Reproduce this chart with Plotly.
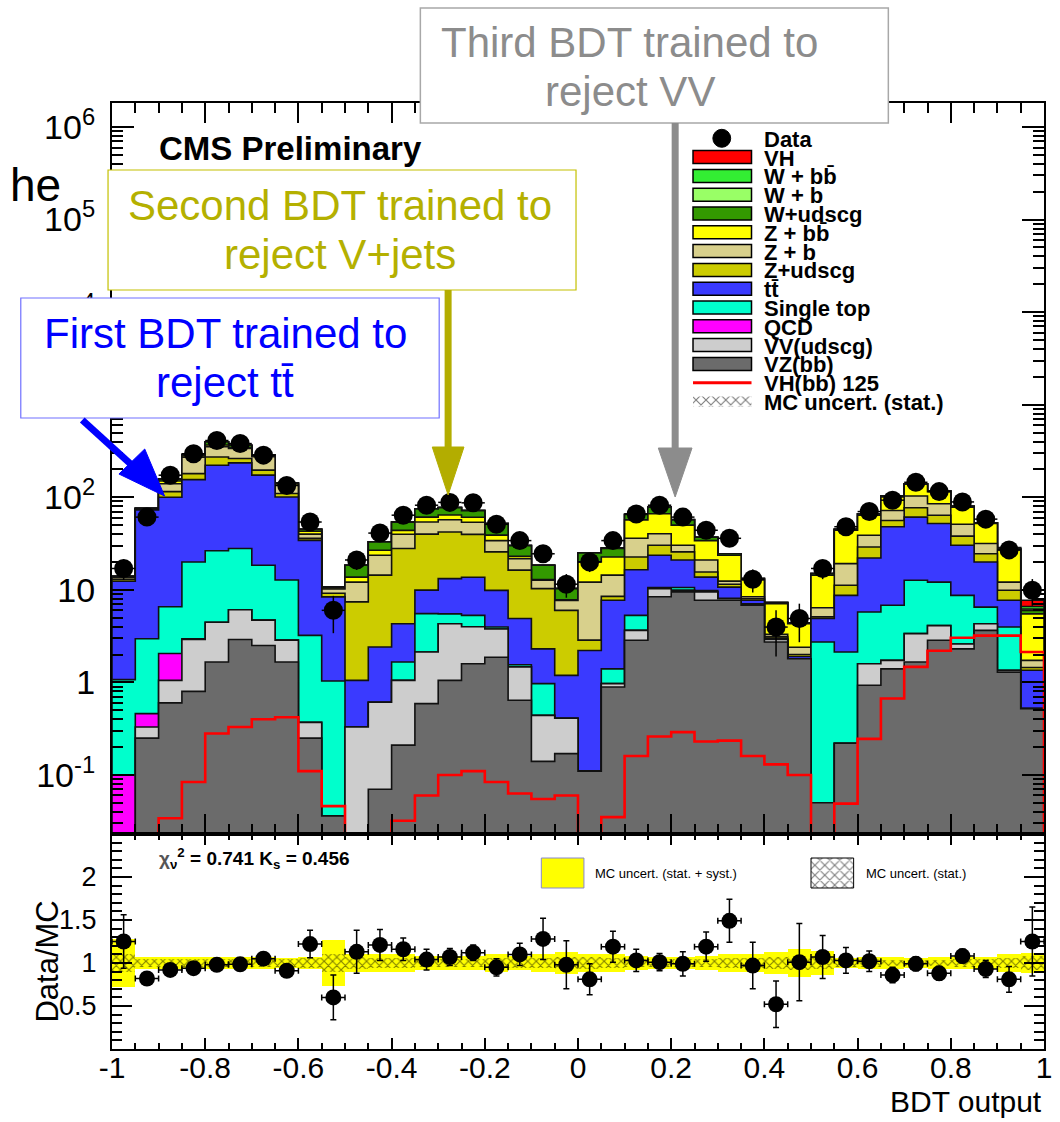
import numpy as np
import plotly.graph_objects as go

# ---------------- data ----------------
bdt_min, bdt_max, n_bins = -1.0, 1.0, 40

vz_bb = [0, 0.25, 0.6, 0.8, 1.66, 2.9, 2.5, 1.66, 0.25, 0.036,
         0, 0.07, 0.21, 0.59, 1.05, 1.59, 1.87, 0.64, 0.14, 0.17,
         0.11, 0.89, 2.85, 8.4, 9.5, 7.7, 7.7, 6.8, 2.73, 1.8,
         0.05, 0.22, 0.93, 1.4, 1.66, 2.85, 2.3, 3.65, 1.29, 0.52]
vv_udscg = [0, 0.08, 0.45, 2.1, 2.8, 3.2, 2.2, 1.2, 0.12, 0,
            0.33, 0.54, 0.84, 1.54, 3.25, 2.4, 1.9, 0.83, 0.3, 0.24,
            0, 0.08, 0.8, 1.9, 0.4, 1.8, 0.3, 0.2, 0.17, 0,
            0, 0, 0.66, 0.33, 1.7, 1.25, 0.3, 0.65, 0.06, 0]
qcd = [0.1, 0.13, 1.0, 0.05, 0, 0, 0, 0, 0, 0,
       0, 0, 0, 0, 0, 0, 0, 0, 0, 0,
       0, 0, 0, 0, 0, 0, 0, 0, 0, 0,
       0, 0, 0, 0, 0, 0, 0, 0, 0, 0]
single_top = [0.97, 2.5, 4.5, 17, 22, 21.8, 13.7, 9.9, 2.85, 1.0,
              0, 0, 0.61, 3.4, 1.2, 1.3, 0.2, 0.08, 0.53, 0,
              0, 0.43, 1.65, 0.3, 0.7, 0.3, 0.1, 0, 0, 0,
              2.68, 1.91, 4.16, 5.07, 9.34, 8.0, 6.1, 2.2, 2.61, 0]
ttbar = [11.3, 70, 93.5, 135, 195, 207, 155, 88, 31, 7.35,
         0.72, 1.8, 2.64, 4.4, 7.7, 8.4, 5.9, 3.35, 1.33, 0.78,
         2.1, 6.3, 11.2, 13, 10.4, 3.9, 2.6, 0.7, 0.1, 0.1,
         2.17, 6.57, 16.3, 41.2, 48.3, 39.9, 21.6, 13.5, 3.74, 0.83]
z_udscg = [0.6, 1.0, 15, 25, 51, 27, 23, 9, 1.7, 0.8,
           6.35, 12, 23.6, 30, 29, 26, 15.8, 11.4, 8.0, 4.8,
           0.65, 0.8, 6.1, 6.7, 4.7, 1.9, 0.8, 0.3, 0.1, 0.1,
           0.2, 2.5, 7.0, 8.0, 16, 12, 7.7, 4.5, 2.2, 0.1]
z_b = [0.6, 1.0, 25, 90, 80, 74, 77, 25, 4.0, 1.0,
       4.7, 9.2, 12, 14, 15, 14, 8.3, 5.4, 2.4, 1.7,
       9.25, 5.9, 13.4, 10.1, 4.6, 5.4, 0.9, 0.4, 0.2, 0.4,
       1.3, 8.0, 9.8, 16, 26, 21, 13, 7.1, 2.2, 0.28]
z_bb = [0.2, 0.5, 10, 10, 14, 9, 5, 5, 3, 0.3,
        1.6, 3.1, 4, 7, 7, 7, 5, 1.3, 0.2, 0.1,
        7.9, 8.2, 21, 26, 19.7, 13, 11.2, 4.4, 3.8, 1.9,
        8.0, 24.8, 25.2, 29, 35, 30, 27, 20.4, 14.9, 3.77]
w_udscg = [0.2, 0.5, 7, 10, 30, 20, 7, 3, 2, 0.2,
           4.7, 6.2, 10, 14, 13, 11, 13, 7, 5.5, 2.5,
           5, 5.4, 8, 11.5, 7, 3, 0.9, 0.4, 0.2, 0.1,
           0.6, 1, 2, 2, 2, 2, 2, 1, 0.5, 0.5]
w_b = [0, 0, 0, 0, 0, 0, 0, 0, 0, 0,
       0, 0, 0, 0, 0, 0, 0, 0, 0, 0,
       0, 0, 0, 0, 0, 0, 0, 0, 0, 0,
       0, 0, 0, 0, 0, 0, 0, 0, 0.3, 0.2]
w_bb = [0, 0, 0, 0, 0, 0, 0, 0, 0, 0,
        0, 0, 0, 0, 0, 0, 0, 0, 0, 0,
        0, 0.4, 0.6, 0.6, 0.5, 0, 0, 0, 0, 0,
        0, 0, 0, 0, 0, 0, 0, 0, 0.3, 0.4]
vh = [0, 0, 0, 0, 0, 0, 0, 0, 0, 0,
      0, 0, 0, 0, 0, 0, 0, 0, 0, 0,
      0, 0, 0, 0, 0, 0, 0, 0, 0, 0,
      0, 0, 0, 0, 0, 0, 0, 0, 0.5, 1.1]
vh125 = [0, 0, 0.034, 0.084, 0.28, 0.33, 0.40, 0.42, 0.11, 0.046,
         0, 0, 0.032, 0.06, 0.10, 0.11, 0.084, 0.063, 0.055, 0.06,
         0, 0.035, 0.16, 0.26, 0.29, 0.23, 0.235, 0.16, 0.13, 0.10,
         0, 0.049, 0.245, 0.67, 1.47, 2.2, 3.04, 3.2, 3.2, 2.13]
data = [17, 61, 173, 295, 410, 380, 285, 134, 54, 6.0,
        21, 41, 64, 82, 88, 87, 51, 34, 24.5, 11.5,
        20, 34, 66, 82, 61, 44, 36, 13, 3.96, 4.9,
        17, 48, 70, 93, 145, 115, 89, 58, 27, 9.9]
ratio = [1.25, 0.82, 0.92, 0.94, 0.98, 0.985, 1.05, 0.91, 1.22, 0.60,
         1.13, 1.21, 1.16, 1.04, 1.07, 1.12, 0.95, 1.10, 1.28, 0.98,
         0.81, 1.19, 1.03, 1.01, 0.99, 1.19, 1.49, 0.97, 0.52, 1.01,
         1.07, 1.03, 1.02, 0.86, 0.99, 0.88, 1.08, 0.93, 0.81, 1.25]
ratio_err = [0.31, 0.06, 0.05, 0.04, 0.04, 0.04, 0.05, 0.07, 0.16, 0.26,
             0.25, 0.18, 0.13, 0.12, 0.10, 0.09, 0.10, 0.13, 0.24, 0.28,
             0.18, 0.18, 0.13, 0.10, 0.14, 0.17, 0.25, 0.27, 0.27, 0.45,
             0.25, 0.15, 0.12, 0.09, 0.08, 0.08, 0.08, 0.10, 0.15, 0.40]
unc_syst = [0.28, 0.075, 0.075, 0.075, 0.07, 0.07, 0.07, 0.06, 0.07, 0.27,
            0.10, 0.10, 0.10, 0.08, 0.08, 0.08, 0.10, 0.08, 0.10, 0.13,
            0.10, 0.11, 0.08, 0.07, 0.07, 0.08, 0.10, 0.10, 0.13, 0.16,
            0.14, 0.06, 0.07, 0.07, 0.06, 0.07, 0.07, 0.07, 0.10, 0.12]
unc_stat = [0.10, 0.05, 0.05, 0.05, 0.05, 0.05, 0.05, 0.05, 0.06, 0.10,
            0.07, 0.06, 0.06, 0.05, 0.05, 0.05, 0.06, 0.06, 0.06, 0.07,
            0.07, 0.06, 0.05, 0.05, 0.05, 0.05, 0.06, 0.06, 0.07, 0.08,
            0.07, 0.05, 0.05, 0.04, 0.04, 0.04, 0.05, 0.05, 0.06, 0.08]

x_tick_vals = [-1, -0.8, -0.6, -0.4, -0.2, 0, 0.2, 0.4, 0.6, 0.8, 1]
x_tick_text = ["-1", "-0.8", "-0.6", "-0.4", "-0.2", "0", "0.2", "0.4", "0.6", "0.8", "1"]
y_tick_vals = [0.1, 1, 10, 100, 1e3, 1e4, 1e5, 1e6]
y_tick_text = ["10<sup>-1</sup>", "1", "10", "10<sup>2</sup>", "10<sup>3</sup>",
               "10<sup>4</sup>", "10<sup>5</sup>", "10<sup>6</sup>"]
r_tick_vals = [0.5, 1, 1.5, 2]
r_tick_text = ["0.5", "1", "1.5", "2"]

processes = [  # bottom -> top of the stack
    ("VZ(bb)", vz_bb, "#6b6b6b"),
    ("VV(udscg)", vv_udscg, "#cdcdcd"),
    ("QCD", qcd, "#ff00ff"),
    ("Single top", single_top, "#00ffcc"),
    ("tt", ttbar, "#3a3aff"),
    ("Z+udscg", z_udscg, "#cccc00"),
    ("Z + b", z_b, "#d8d08c"),
    ("Z + bb", z_bb, "#ffff00"),
    ("W+udscg", w_udscg, "#339900"),
    ("W + b", w_b, "#99ff66"),
    ("W + bb", w_bb, "#33ee33"),
    ("VH", vh, "#ff0000"),
]

# ---------------- geometry helpers ----------------
Y_LOG_MIN, Y_LOG_MAX = -1.638, 6.259
FLOOR = 10 ** Y_LOG_MIN
PL, PR, PT, PB = 112, 1052, 103, 1049  # plot area in pixels
SPLIT = (PB - 834) / (PB - PT)


def px(x):
    return (x - PL) / (PR - PL)


def py(y):
    return (PB - y) / (PB - PT)


edges = np.linspace(bdt_min, bdt_max, n_bins + 1)
centers = 0.5 * (edges[:-1] + edges[1:])
bw = edges[1] - edges[0]

fig = go.Figure()

# ---------------- stacked histogram (ROOT style, drawn top -> bottom) ----------------
cum = np.cumsum(np.array([p[1] for p in processes], dtype=float), axis=0)


def step_polygon(vals):
    xs, ys = [edges[0]], [FLOOR]
    for i, v in enumerate(vals):
        v = max(v, FLOOR)
        xs += [edges[i], edges[i + 1]]
        ys += [v, v]
    xs.append(edges[-1])
    ys.append(FLOOR)
    return xs, ys


for k in range(len(processes) - 1, -1, -1):
    xs, ys = step_polygon(cum[k])
    fig.add_trace(go.Scatter(x=xs, y=ys, mode="lines", fill="toself",
                             fillcolor=processes[k][2],
                             line=dict(color="#111111", width=1.6),
                             hoverinfo="skip", xaxis="x", yaxis="y"))

# VH(bb) 125 unstacked red line
vh125_arr = np.array(vh125, dtype=float)
first = int(np.argmax(vh125_arr > 0))
xs, ys = [edges[first]], [FLOOR]
for i in range(first, n_bins):
    v = max(vh125_arr[i], FLOOR)
    xs += [edges[i], edges[i + 1]]
    ys += [v, v]
xs.append(edges[-1])
ys.append(FLOOR)
fig.add_trace(go.Scatter(x=xs, y=ys, mode="lines", line=dict(color="#ff0000", width=2.6),
                         hoverinfo="skip", xaxis="x", yaxis="y"))

# data points
data_arr = np.array(data, dtype=float)
ratio_arr = np.array(ratio, dtype=float)
rerr_arr = np.array(ratio_err, dtype=float)
fig.add_trace(go.Scatter(
    x=centers, y=data_arr, mode="markers",
    marker=dict(color="black", size=19),
    error_x=dict(type="constant", value=bw / 2, color="black", thickness=1.5, width=0),
    error_y=dict(type="data", array=data_arr * rerr_arr / ratio_arr, color="black",
                 thickness=1.5, width=0),
    xaxis="x", yaxis="y"))

# ---------------- ratio panel ----------------
syst = np.array(unc_syst)
stat = np.array(unc_stat)
fig.add_trace(go.Bar(x=centers, y=2 * syst, base=1 - syst, width=bw,
                     marker=dict(color="#ffff00", line=dict(width=0)),
                     xaxis="x2", yaxis="y2", hoverinfo="skip"))
fig.add_trace(go.Bar(x=centers, y=2 * stat, base=1 - stat, width=bw,
                     marker=dict(color="rgba(0,0,0,0)", line=dict(width=0),
                                 pattern=dict(shape="x", fgcolor="black", size=6,
                                              solidity=0.32)),
                     xaxis="x2", yaxis="y2", hoverinfo="skip"))
fig.add_trace(go.Scatter(
    x=centers, y=ratio_arr, mode="markers",
    marker=dict(color="black", size=16),
    error_x=dict(type="constant", value=bw / 2, color="black", thickness=1.5, width=3),
    error_y=dict(type="data", array=rerr_arr, color="black", thickness=1.5, width=3),
    xaxis="x2", yaxis="y2"))

# ---------------- pixel overlay for hatched legend swatches ----------------
def hatch_box(x0, y0, x1, y1, border):
    fig.add_trace(go.Scatter(
        x=[x0, x1, x1, x0, x0], y=[y0, y0, y1, y1, y0], mode="lines", fill="toself",
        fillcolor="rgba(255,255,255,0)",
        fillpattern=dict(shape="x", fgcolor="black", bgcolor="white", size=7, solidity=0.3),
        line=dict(color="black", width=1 if border else 0),
        hoverinfo="skip", xaxis="x3", yaxis="y3"))


leg_y0, leg_dy = 138.3, 18.8
hatch_box(698, leg_y0 + 14 * leg_dy - 5, 757, leg_y0 + 14 * leg_dy + 5, False)
hatch_box(817, 858, 860, 888, True)

# ---------------- layout ----------------
FONT = "Liberation Sans, Arial, Helvetica, sans-serif"
xcommon = dict(range=[bdt_min, bdt_max], tickmode="array", tickvals=x_tick_vals,
               ticks="inside", tickcolor="black", tickwidth=1.5, showline=True,
               linecolor="black", linewidth=2, mirror="ticks", showgrid=False,
               zeroline=False)

minor_log = [m * 10.0 ** e for e in range(-2, 7) for m in range(2, 10)]

fig.update_layout(
    width=1060, height=1122, autosize=False,
    margin=dict(l=PL, r=1060 - PR, t=PT, b=1122 - PB, pad=0),
    paper_bgcolor="white", plot_bgcolor="rgba(0,0,0,0)",
    showlegend=False, barmode="overlay", bargap=0,
    font=dict(family=FONT, color="black"),
    xaxis=dict(domain=[0, 1], anchor="y", ticklen=20, showticklabels=False,
               minor=dict(tickmode="linear", tick0=-1, dtick=0.05, ticks="inside",
                          ticklen=10, tickcolor="black", tickwidth=1.5, showgrid=False),
               **xcommon),
    xaxis2=dict(domain=[0, 1], anchor="y2", ticklen=11, ticktext=x_tick_text,
                showticklabels=True, tickfont=dict(size=30, family=FONT),
                ticklabelstandoff=-9,
                minor=dict(tickmode="linear", tick0=-1, dtick=0.05, ticks="inside",
                           ticklen=6, tickcolor="black", tickwidth=1.5, showgrid=False),
                **xcommon),
    yaxis=dict(domain=[SPLIT, 1], anchor="x", type="log", range=[Y_LOG_MIN, Y_LOG_MAX],
               tickmode="array", tickvals=y_tick_vals, ticktext=y_tick_text,
               ticks="inside", ticklen=22, tickcolor="black", tickwidth=1.5,
               tickfont=dict(size=34, family=FONT), ticklabelstandoff=8,
               showline=True, linecolor="black", linewidth=2, mirror="ticks",
               showgrid=False, zeroline=False,
               minor=dict(tickmode="array", tickvals=minor_log, ticks="inside",
                          ticklen=11, tickcolor="black", tickwidth=1.5, showgrid=False)),
    yaxis2=dict(domain=[0, SPLIT], anchor="x2", range=[0, 2.5],
                tickmode="array", tickvals=r_tick_vals, ticktext=r_tick_text,
                ticks="inside", ticklen=20, tickcolor="black", tickwidth=1.5,
                tickfont=dict(size=27, family=FONT), ticklabelstandoff=8,
                showline=True, linecolor="black", linewidth=2, mirror="ticks",
                showgrid=False, zeroline=False,
                minor=dict(tickmode="linear", tick0=0, dtick=0.1, ticks="inside",
                           ticklen=10, tickcolor="black", tickwidth=1.5, showgrid=False)),
    xaxis3=dict(domain=[0, 1], anchor="y3", range=[PL, PR], visible=False, fixedrange=True),
    yaxis3=dict(domain=[0, 1], anchor="x3", range=[PB, PT], visible=False, fixedrange=True),
)

shapes = []
annotations = []


def rect(x0, y0, x1, y1, fill, line_color="black", lw=1.5):
    shapes.append(dict(type="rect", xref="paper", yref="paper",
                       x0=px(x0), x1=px(x1), y0=py(y1), y1=py(y0),
                       fillcolor=fill, line=dict(color=line_color, width=lw), layer="above"))


def text(x, y, s, size, color="black", xanchor="left", weight="normal", angle=0):
    annotations.append(dict(xref="paper", yref="paper", x=px(x), y=py(y), text=s,
                            showarrow=False, xanchor=xanchor, yanchor="middle",
                            textangle=angle,
                            font=dict(size=size, color=color, family=FONT, weight=weight)))


# legend of the main panel
leg_entries = [
    ("Data", "marker", None),
    ("VH", "box", "#ff0000"),
    ("W + bb\u0304", "box", "#33ee33"),
    ("W + b", "box", "#99ff66"),
    ("W+udscg", "box", "#339900"),
    ("Z + bb\u0304", "box", "#ffff00"),
    ("Z + b", "box", "#d8d08c"),
    ("Z+udscg", "box", "#cccc00"),
    ("tt\u0304", "box", "#3a3aff"),
    ("Single top", "box", "#00ffcc"),
    ("QCD", "box", "#ff00ff"),
    ("VV(udscg)", "box", "#cdcdcd"),
    ("VZ(bb)", "box", "#6b6b6b"),
    ("VH(bb) 125", "line", "#ff0000"),
    ("MC uncert. (stat.)", "hatch", None),
]
for k, (lab, kind, col) in enumerate(leg_entries):
    yc = leg_y0 + k * leg_dy
    if kind == "box":
        rect(698, yc - 6.5, 757, yc + 6.5, col, "black", 1.5)
    elif kind == "marker":
        shapes.append(dict(type="circle", xref="paper", yref="paper",
                           x0=px(718), x1=px(736), y0=py(yc + 9), y1=py(yc - 9),
                           fillcolor="black", line=dict(color="black", width=1), layer="above"))
    elif kind == "line":
        shapes.append(dict(type="line", xref="paper", yref="paper",
                           x0=px(698), x1=px(757), y0=py(yc), y1=py(yc),
                           line=dict(color="#ff0000", width=3), layer="above"))
    text(768, yc + 1, lab, 22, weight="bold")

# CMS label and chi2
text(157, 148, "CMS Preliminary", 33, weight="bold")
text(157, 858, "<span style='color:#555'>\u03c7</span><sub>\u03bd</sub><sup>2</sup> = 0.741 K<sub>s</sub> = 0.456",
     19, weight="bold")

# ratio legend
rect(545, 858, 588, 888, "#ffff00", "#8888cc", 1)
text(597, 873, "MC uncert. (stat. + syst.)", 13)
text(870, 873, "MC uncert. (stat.)", 13)

# axis titles
text(1052, 1101, "BDT output", 30, xanchor="right")
text(46, 962, "Data/MC", 31, xanchor="center", angle=-90)

# slide overlay: boxes, texts and arrows
text(63, 185, "he", 46, xanchor="right")

rect(423, 8, 895, 123, "white", "#a8a8a8", 1.5)
text(634, 42, "Third BDT trained to", 42, color="#8c8c8c", xanchor="center")
text(634, 91, "reject VV", 42, color="#8c8c8c", xanchor="center")

rect(108, 170, 580, 290, "white", "#c4c000", 1.2)
text(342, 205, "Second BDT trained to", 42, color="#b4b000", xanchor="center")
text(342, 254, "reject V+jets", 42, color="#b4b000", xanchor="center")

rect(20, 298, 442, 418, "white", "#7070ff", 1.2)
text(226, 333, "First BDT trained to", 42, color="#0000ff", xanchor="center")
text(226, 382, "reject tt\u0304", 42, color="#0000ff", xanchor="center")


def arrow(x0, y0, x1, y1, hx, hy, color, lw):
    shapes.append(dict(type="line", xref="paper", yref="paper",
                       x0=px(x0), y0=py(y0), x1=px(x1), y1=py(y1),
                       line=dict(color=color, width=lw), layer="above"))
    path = "M {} {} L {} {} L {} {} Z".format(px(hx[0]), py(hy[0]), px(hx[1]), py(hy[1]),
                                              px(hx[2]), py(hy[2]))
    shapes.append(dict(type="path", xref="paper", yref="paper", path=path,
                       fillcolor=color, line=dict(color=color, width=1), layer="above"))


arrow(680, 123, 680, 455, (663, 697, 680), (448, 448, 497), "#8c8c8c", 7)
arrow(451, 290, 451, 455, (435, 467, 451), (447, 447, 495), "#b3ad00", 7)
arrow(82, 420, 133, 466, (119, 145, 165), (474, 449, 496), "#0000ff", 7)

fig.update_layout(shapes=shapes, annotations=annotations)
fig.write_html("out.html")
